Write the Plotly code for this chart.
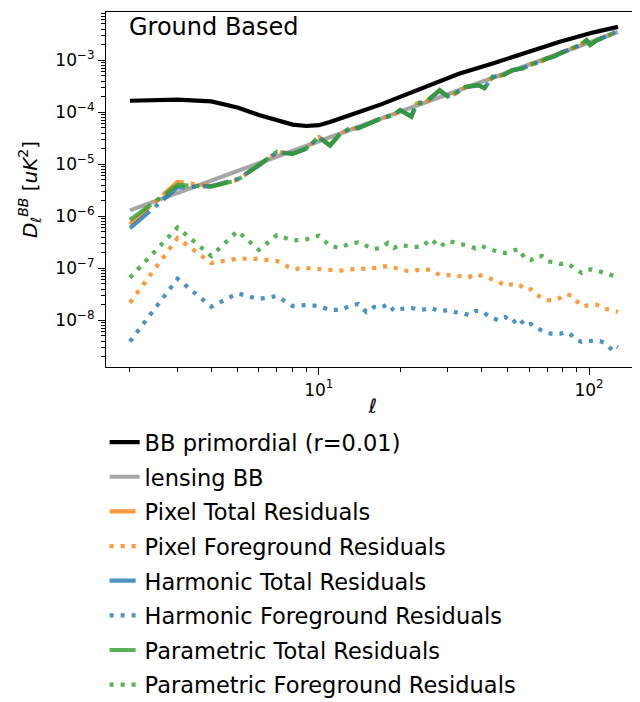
import plotly.graph_objects as go

# ---------------- data ----------------
ell_primordial = [2, 3, 4, 5, 6, 7, 8, 9, 10, 11, 12, 14, 17, 20, 25, 33, 44, 59, 78, 104, 125, 128]
bb_primordial = [1.67e-4, 1.76e-4, 1.62e-4, 1.24e-4, 8.9e-5, 6.9e-5, 5.8e-5, 5.45e-5, 5.65e-5, 6.5e-5,
                 7.7e-5, 1.0e-4, 1.42e-4, 2.0e-4, 3.2e-4, 5.5e-4, 8.7e-4, 1.43e-3, 2.28e-3, 3.45e-3,
                 4.3e-3, 4.4e-3]

ell_lensing = [2, 3, 4, 5, 6, 8, 10, 13, 16, 20, 25, 30, 40, 50, 60, 70, 80, 90, 100, 110, 120, 128]
lensing_bb = [1.3e-6, 2.8e-6, 4.85e-6, 7.4e-6, 1.05e-5, 1.81e-5, 2.77e-5, 4.55e-5, 6.76e-5, 1.03e-4,
              1.58e-4, 2.23e-4, 3.85e-4, 5.9e-4, 8.3e-4, 1.12e-3, 1.44e-3, 1.8e-3, 2.2e-3, 2.63e-3,
              3.1e-3, 3.5e-3]

ell_total = [2, 3, 4, 5, 6, 7, 8, 9, 10, 11, 12, 13, 14, 16, 17, 19, 20, 22, 23, 25, 27, 28, 30, 32,
             35, 39, 41, 44, 48, 52, 57, 60, 66, 70, 74, 78, 83, 93, 98, 101, 107, 116, 125]
pixel_total = [7.0e-7, 4.6e-6, 3.8e-6, 5.0e-6, 9.6e-6, 1.72e-5, 1.6e-5, 2.0e-5, 3.35e-5, 2.3e-5,
               3.85e-5, 4.85e-5, 4.95e-5, 6.5e-5, 7.6e-5, 9.0e-5, 1.1e-4, 8.3e-5, 1.47e-4, 1.6e-4,
               2.3e-4, 2.65e-4, 2.02e-4, 2.3e-4, 3.08e-4, 3.32e-4, 2.92e-4, 4.82e-4, 5.15e-4, 6.45e-4,
               7.05e-4, 8.05e-4, 9.45e-4, 1.085e-3, 1.175e-3, 1.355e-3, 1.57e-3, 1.98e-3, 2.42e-3,
               1.99e-3, 2.43e-3, 2.85e-3, 3.52e-3]
harmonic_total = [5.9e-7, 3.6e-6, 3.8e-6, 5.2e-6, 9.5e-6, 1.7e-5, 1.6e-5, 2.0e-5, 3.3e-5, 2.3e-5,
                  3.8e-5, 4.8e-5, 5.0e-5, 6.5e-5, 7.6e-5, 9.0e-5, 1.1e-4, 8.4e-5, 1.45e-4, 1.62e-4,
                  2.3e-4, 2.6e-4, 2.05e-4, 2.3e-4, 3.05e-4, 3.3e-4, 2.95e-4, 4.8e-4, 5.1e-4, 6.4e-4,
                  7.1e-4, 8.0e-4, 9.5e-4, 1.08e-3, 1.18e-3, 1.35e-3, 1.56e-3, 1.99e-3, 2.4e-3,
                  2.0e-3, 2.42e-3, 2.86e-3, 3.5e-3]
parametric_total = [8.5e-7, 4.0e-6, 3.7e-6, 5.0e-6, 9.7e-6, 1.75e-5, 1.58e-5, 2.03e-5, 3.4e-5, 2.28e-5,
                    3.9e-5, 4.9e-5, 4.9e-5, 6.6e-5, 7.7e-5, 8.9e-5, 1.11e-4, 8.2e-5, 1.49e-4, 1.6e-4,
                    2.32e-4, 2.68e-4, 2.0e-4, 2.32e-4, 3.1e-4, 3.35e-4, 2.9e-4, 4.84e-4, 5.2e-4, 6.5e-4,
                    7.0e-4, 8.1e-4, 9.4e-4, 1.09e-3, 1.17e-3, 1.36e-3, 1.58e-3, 1.97e-3, 2.45e-3,
                    1.97e-3, 2.45e-3, 2.84e-3, 3.55e-3]

ell_fg = [2, 3, 4, 5, 6, 7, 8, 9, 10, 11, 12, 13, 14, 15, 16, 17, 18, 19, 20, 22, 24, 26, 28, 30, 32,
          34, 36, 38, 40, 43, 46, 49, 52, 55, 58, 61, 64, 67, 70, 74, 78, 82, 86, 90, 94, 98, 102,
          106, 110, 114, 118, 122, 126, 128]
pixel_fg = [2.18e-8, 3.83e-7, 1.26e-7, 1.54e-7, 1.51e-7, 1.38e-7, 9.7e-8, 1.01e-7, 9.7e-8, 9.3e-8,
            9.0e-8, 9.5e-8, 9.9e-8, 9.9e-8, 1.01e-7, 1.07e-7, 1.11e-7, 1.04e-7, 9.3e-8, 8.7e-8,
            9.7e-8, 9.3e-8, 7.4e-8, 7.4e-8, 7.3e-8, 6.95e-8, 6.8e-8, 7.8e-8, 7.1e-8, 6.4e-8,
            5.7e-8, 4.57e-8, 4.95e-8, 4.99e-8, 3.83e-8, 3.91e-8, 3.07e-8, 2.74e-8, 2.45e-8, 2.4e-8,
            2.69e-8, 3.2e-8, 3.0e-8, 2.35e-8, 1.84e-8, 1.93e-8, 1.97e-8, 2.01e-8, 1.88e-8, 1.66e-8,
            1.61e-8, 1.52e-8, 1.48e-8, 1.44e-8]
harmonic_fg = [3.9e-9, 6.3e-8, 1.83e-8, 3.3e-8, 2.57e-8, 2.93e-8, 1.88e-8, 1.97e-8, 1.88e-8, 1.58e-8,
               1.58e-8, 1.88e-8, 2.06e-8, 1.44e-8, 1.8e-8, 1.73e-8, 2.06e-8, 1.51e-8, 1.65e-8, 1.73e-8,
               1.58e-8, 1.73e-8, 1.48e-8, 1.58e-8, 1.44e-8, 1.38e-8, 1.26e-8, 1.51e-8, 1.51e-8, 1.16e-8,
               1.01e-8, 1.16e-8, 8.9e-9, 1.11e-8, 7.8e-9, 8.5e-9, 7.1e-9, 6.2e-9, 5.7e-9, 5.45e-9,
               5.45e-9, 5.96e-9, 5.2e-9, 4.18e-9, 3.83e-9, 4.0e-9, 4.0e-9, 3.83e-9, 4.0e-9, 3.66e-9,
               3.2e-9, 2.68e-9, 3.2e-9, 3.06e-9]
parametric_fg = [6.6e-8, 6.1e-7, 1.72e-7, 5.2e-7, 2.25e-7, 4.37e-7, 3.43e-7, 3.61e-7, 4.27e-7, 2.69e-7,
                 2.46e-7, 3.0e-7, 3.16e-7, 2.69e-7, 2.35e-7, 2.46e-7, 3.07e-7, 2.46e-7, 2.81e-7, 2.6e-7,
                 2.57e-7, 3.66e-7, 2.57e-7, 3.35e-7, 3.13e-7, 2.93e-7, 2.69e-7, 2.4e-7, 2.69e-7, 2.35e-7,
                 2.06e-7, 1.97e-7, 2.15e-7, 2.35e-7, 1.51e-7, 1.44e-7, 1.72e-7, 1.72e-7, 1.38e-7, 1.32e-7,
                 1.21e-7, 1.25e-7, 1.11e-7, 9.3e-8, 8.1e-8, 9.3e-8, 9.5e-8, 9.1e-8, 8.6e-8, 8.3e-8,
                 7.9e-8, 7.6e-8, 7.1e-8, 6.8e-8]

x_tick_vals = [10, 100]
x_tick_text = ["10<sup>1</sup>", "10<sup>2</sup>"]
y_tick_vals = [1e-8, 1e-7, 1e-6, 1e-5, 1e-4, 1e-3]
y_tick_text = ["10<sup>\u22128</sup>", "10<sup>\u22127</sup>", "10<sup>\u22126</sup>",
               "10<sup>\u22125</sup>", "10<sup>\u22124</sup>", "10<sup>\u22123</sup>"]

# ---------------- styles ----------------
FONT = "DejaVu Sans"
ORANGE = "rgba(255,127,14,0.8)"
BLUE = "rgba(31,119,180,0.8)"
GREEN = "rgba(44,160,44,0.8)"
GREY = "rgba(128,128,128,0.7)"
DASHDOT = "26px,7px,4px,7px"
DOT = "4px,7px"
LW = 4.2

series = [
    (ell_primordial, bb_primordial, "BB primordial (r=0.01)", "black", "solid"),
    (ell_lensing, lensing_bb, "lensing BB", GREY, "solid"),
    (ell_total, pixel_total, "Pixel Total Residuals", ORANGE, DASHDOT),
    (ell_fg, pixel_fg, "Pixel Foreground Residuals", ORANGE, DOT),
    (ell_total, harmonic_total, "Harmonic Total Residuals", BLUE, DASHDOT),
    (ell_fg, harmonic_fg, "Harmonic Foreground Residuals", BLUE, DOT),
    (ell_total, parametric_total, "Parametric Total Residuals", GREEN, DASHDOT),
    (ell_fg, parametric_fg, "Parametric Foreground Residuals", GREEN, DOT),
]

fig = go.Figure()
for x, y, name, color, dash in series:
    fig.add_trace(go.Scatter(x=x, y=y, mode="lines", name=name, legendgroup=name,
                             line=dict(color=color, width=LW, dash=dash)))

minor_x = [v * 10 ** k for k in range(0, 3) for v in range(2, 10)]
minor_y = [v * 10.0 ** k for k in range(-10, -1) for v in range(2, 10)]

# the page body adds an 8px offset, so the figure is 8px smaller than the window
fig.update_layout(
    width=632, height=694,
    margin=dict(l=98, r=0, t=4, b=335, autoexpand=False),
    paper_bgcolor="white", plot_bgcolor="white",
    font=dict(family=FONT, size=16, color="black"),
    showlegend=True,
    legend=dict(x=-0.0026, y=-0.1521, xanchor="left", yanchor="top",
                font=dict(family=FONT, size=22.5, color="black"),
                bgcolor="rgba(0,0,0,0)", tracegroupgap=2.4, traceorder="grouped"),
    annotations=[dict(text="Ground Based", x=0.0393, y=0.958, xref="paper", yref="paper",
                      xanchor="left", yanchor="middle", showarrow=False,
                      font=dict(family=FONT, size=24, color="black"))],
)
fig.update_xaxes(type="log", range=[0.2124, 2.1887], showgrid=False, zeroline=False,
                 automargin=False,
                 showline=True, linecolor="black", linewidth=1.2, mirror=True,
                 ticks="outside", ticklen=7, tickwidth=1.2, tickcolor="black",
                 tickvals=x_tick_vals, ticktext=x_tick_text,
                 tickfont=dict(family=FONT, size=17),
                 minor=dict(ticks="outside", ticklen=4, tickwidth=0.9, tickcolor="black",
                            tickvals=minor_x, showgrid=False),
                 title=dict(text="<i>ℓ</i>", font=dict(family=FONT, size=20), standoff=0))
fig.update_yaxes(type="log", range=[-8.898, -2.071], showgrid=False, zeroline=False,
                 automargin=False,
                 showline=True, linecolor="black", linewidth=1.2, mirror=False,
                 ticks="outside", ticklen=7, tickwidth=1.2, tickcolor="black",
                 tickvals=y_tick_vals, ticktext=y_tick_text,
                 tickfont=dict(family=FONT, size=17),
                 minor=dict(ticks="outside", ticklen=4, tickwidth=0.9, tickcolor="black",
                            tickvals=minor_y, showgrid=False),
                 title=dict(text="<i>D</i><sub><i>ℓ</i></sub><sup><i>BB</i></sup> [<i>uK</i><sup>2</sup>]",
                            font=dict(family=FONT, size=20), standoff=12))

fig.write_html("out.html")
